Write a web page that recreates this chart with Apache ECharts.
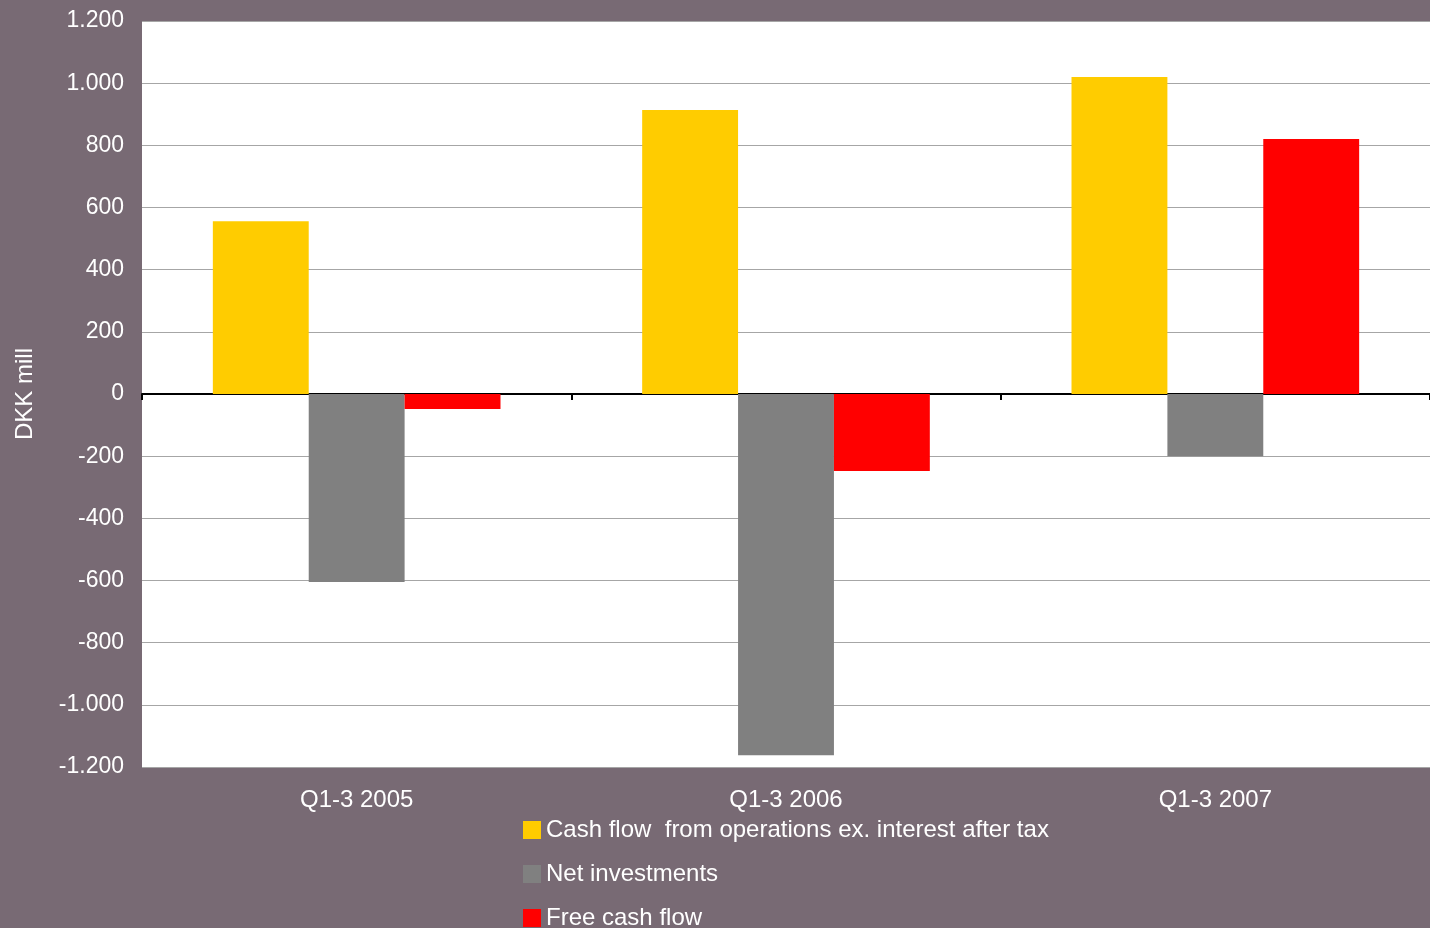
<!DOCTYPE html>
<html>
<head>
<meta charset="utf-8">
<script src="https://cdn.jsdelivr.net/npm/echarts@6/dist/echarts.min.js"></script>
<style>
  html, body { margin: 0; padding: 0; background: #786a74; }
  #chart { width: 1430px; height: 928px; }
</style>
</head>
<body>
<div id="chart"></div>
<script>
// Cash flow overview, DKK mill
const categories = ['Q1-3 2005', 'Q1-3 2006', 'Q1-3 2007'];
const seriesNames = [
  'Cash flow  from operations ex. interest after tax',
  'Net investments',
  'Free cash flow'
];
const cashFlowOps = [556, 914, 1020];
const netInvestments = [-605, -1162, -200];
const freeCashFlow = [-48, -248, 820];
const seriesColors = ['#ffcc00', '#808080', '#ff0000'];

// Danish thousand separator
function fmt(v) {
  const s = Math.abs(v).toString().replace(/\B(?=(\d{3})+(?!\d))/g, '.');
  return (v < 0 ? '-' : '') + s;
}

const chart = echarts.init(document.getElementById('chart'), null, { renderer: 'canvas' });
const font = 'Liberation Sans, Arial, sans-serif';

// one legend block per series, stacked under the axis labels
const legendTops = [818, 862, 906];
const legends = seriesNames.map((name, i) => ({
  orient: 'vertical',
  left: 523,
  top: legendTops[i],
  padding: 0,
  itemWidth: 18,
  itemHeight: 18,
  icon: 'rect',
  textStyle: { color: '#ffffff', fontSize: 24, fontFamily: font },
  data: [name]
}));

chart.setOption({
  backgroundColor: '#786a74',
  animation: false,
  grid: { left: 142, right: 0, top: 21, bottom: 161, containLabel: false,
          show: true, backgroundColor: '#ffffff', borderWidth: 0 },
  legend: legends,
  xAxis: [
    {
      type: 'category',
      data: categories,
      axisLine: { onZero: true, lineStyle: { color: '#000000', width: 2 } },
      axisTick: { show: true, length: 6, inside: false, lineStyle: { color: '#000000', width: 2 } },
      axisLabel: { show: false },
      splitLine: { show: false }
    },
    {
      type: 'category',
      data: categories,
      position: 'bottom',
      axisLine: { show: false, onZero: false },
      axisTick: { show: false },
      axisLabel: { color: '#ffffff', fontSize: 24, fontFamily: font, margin: 21 },
      splitLine: { show: false }
    }
  ],
  yAxis: {
    type: 'value',
    min: -1200,
    max: 1200,
    interval: 200,
    name: 'DKK mill',
    nameLocation: 'middle',
    nameGap: 105,
    nameRotate: 90,
    nameTextStyle: { color: '#ffffff', fontSize: 24, fontFamily: font },
    axisLine: { show: false },
    axisTick: { show: false },
    axisLabel: { color: '#ffffff', fontSize: 23, fontFamily: font, margin: 18, formatter: fmt },
    splitLine: { show: true, lineStyle: { color: '#a6a6a6', width: 1 } }
  },
  series: [
    { name: seriesNames[0], type: 'bar', data: cashFlowOps, xAxisIndex: 0,
      barGap: '0%', barCategoryGap: '33%', itemStyle: { color: seriesColors[0] } },
    { name: seriesNames[1], type: 'bar', data: netInvestments, xAxisIndex: 0,
      barGap: '0%', barCategoryGap: '33%', itemStyle: { color: seriesColors[1] } },
    { name: seriesNames[2], type: 'bar', data: freeCashFlow, xAxisIndex: 0,
      barGap: '0%', barCategoryGap: '33%', itemStyle: { color: seriesColors[2] } }
  ]
});
</script>
</body>
</html>
